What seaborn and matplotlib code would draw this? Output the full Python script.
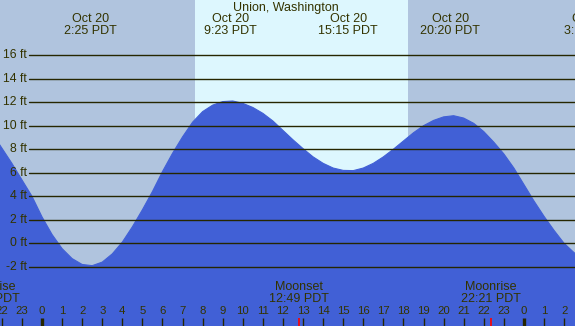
import numpy as np
import matplotlib
matplotlib.use("Agg")
import matplotlib.pyplot as plt
import seaborn as sns

# ---------- Data ----------
STATION = "Union, Washington"

# tide height every half hour, hours counted from midnight Oct 20
tide_hours = np.arange(-2.5, 27.51, 0.5)
tide_ft = [9.4, 8.1, 6.8, 5.4, 4.0, 2.25, 0.75, -0.45, -1.3, -1.8,
           -1.9, -1.6, -0.9, 0.1, 1.4, 2.85, 4.4, 6.1, 7.65, 9.05,
           10.3, 11.2, 11.75, 12.05, 12.1, 11.9, 11.55, 11.05, 10.4, 9.6,
           8.8, 8.05, 7.35, 6.8, 6.4, 6.2, 6.18, 6.4, 6.8, 7.35,
           8.0, 8.7, 9.4, 10.0, 10.45, 10.75, 10.85, 10.65, 10.2, 9.5,
           8.6, 7.6, 6.4, 5.0, 3.6, 2.3, 1.1, 0.0, -0.8, -1.3, -1.4]

# high / low tide labels along the top
extreme_hours  = [2 + 25/60, 9 + 23/60, 15 + 15/60, 20 + 20/60, 27 + 18/60]
extreme_dates  = ["Oct 20", "Oct 20", "Oct 20", "Oct 20", "Oct 21"]
extreme_times  = ["2:25 PDT", "9:23 PDT", "15:15 PDT", "20:20 PDT", "3:18 PDT"]

# moon events along the bottom
moon_hours  = [-(2 + 35/60), 12 + 49/60, 22 + 21/60]
moon_names  = ["Moonrise", "Moonset", "Moonrise"]
moon_times  = ["21:25 PDT", "12:49 PDT", "22:21 PDT"]

SUNRISE = 7 + 37/60
SUNSET  = 18 + 14/60

grid_levels = [-2, 0, 2, 4, 6, 8, 10, 12, 14, 16]
hour_ticks  = list(range(-2, 27))

# ---------- Style ----------
NIGHT = "#B0C4DE"
DAY   = "#DDF7FE"
WATER = "#4160D6"
INK   = "#333300"
LINE  = "#262600"

sns.set_style("white")
plt.rcParams["font.family"] = ["Liberation Sans", "DejaVu Sans"]

W, H = 575, 326
fig = plt.figure(figsize=(W / 100, H / 100), dpi=100)
ax = fig.add_axes([0, 0, 1, 1])

# pixel <-> data mapping
PX_PER_HR, X0 = 20.08, 42
PX_PER_FT, Y0 = 11.76, 243.3
ax.set_xlim((0 - X0) / PX_PER_HR, (W - X0) / PX_PER_HR)
ax.set_ylim((Y0 - H) / PX_PER_FT, Y0 / PX_PER_FT)
ax.set_facecolor(NIGHT)
ax.axis("off")
fig.patch.set_facecolor(NIGHT)

def yfrac(ypix):
    return 1 - ypix / H

trans = ax.get_xaxis_transform()

# daylight band
ax.axvspan(SUNRISE, SUNSET, color=DAY, lw=0, zorder=0)

# tide area
ax.fill_between(tide_hours, tide_ft, ax.get_ylim()[0], color=WATER, lw=0, zorder=1)
sns.lineplot(x=tide_hours, y=tide_ft, color=WATER, lw=0.8, ax=ax, zorder=1)

# grid lines + labels
x_start = 29 / W
for lv in grid_levels:
    ax.axhline(lv, xmin=x_start, xmax=1, color=LINE, lw=1.0, zorder=2)
    ax.text((27 - X0) / PX_PER_HR, lv, f"{lv} ft", ha="right", va="center",
            fontsize=8.8, color=INK, zorder=3)

# title + tide extremes
ax.text(0.498, yfrac(7.5), STATION, transform=ax.transAxes, ha="center", va="center",
        fontsize=9, color=INK)
for h, d, t in zip(extreme_hours, extreme_dates, extreme_times):
    ax.text(h, yfrac(19.5), d, transform=trans, ha="center", va="center", fontsize=9, color=INK)
    ax.text(h, yfrac(31.5), t, transform=trans, ha="center", va="center", fontsize=9, color=INK)

# moon events
for h, n, t in zip(moon_hours, moon_names, moon_times):
    ax.text(h, yfrac(287), n, transform=trans, ha="center", va="center", fontsize=9, color=INK)
    ax.text(h, yfrac(299.5), t, transform=trans, ha="center", va="center", fontsize=9, color=INK)
    ax.vlines(h, 0, yfrac(318), transform=trans, color="red", lw=1.2, zorder=4)

# hour ticks
for hr in hour_ticks:
    lab = hr % 24
    ax.text(hr, yfrac(311.5), str(lab), transform=trans, ha="center", va="center",
            fontsize=8.2, color=INK)
    ax.vlines(hr, 0, yfrac(318), transform=trans, color=LINE,
              lw=2.4 if lab == 0 else 1.0, zorder=4)

fig.savefig("out.png", dpi=100, facecolor=NIGHT)
